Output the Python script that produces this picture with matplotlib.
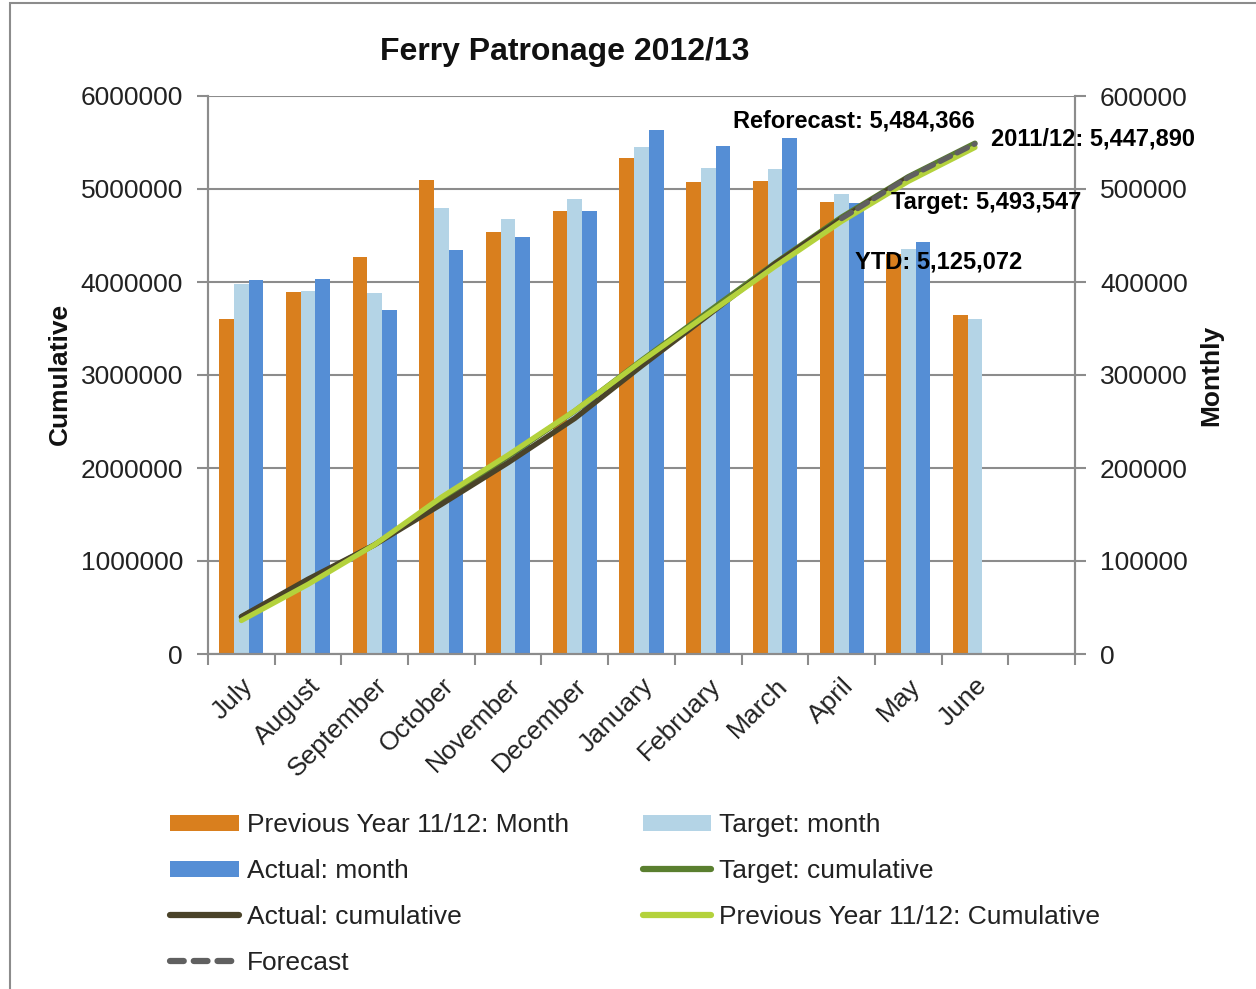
import matplotlib

matplotlib.use("Agg")
import matplotlib.pyplot as plt
import matplotlib.transforms as mtransforms
import numpy as np
from matplotlib.lines import Line2D
from matplotlib.patches import Rectangle

plt.rcParams["font.family"] = ["Liberation Sans", "DejaVu Sans"]

months = [
    "July", "August", "September", "October", "November", "December",
    "January", "February", "March", "April", "May", "June",
]
prev_month = [360000, 389000, 427000, 510000, 454000, 476000,
              533000, 508000, 509000, 486000, 430000, 365000]
target_month = [398000, 390000, 388000, 480000, 468000, 489000,
                545000, 523000, 522000, 495000, 435000, 360000]
actual_month = [402000, 403000, 370000, 434000, 448000, 476000,
                563000, 546000, 555000, 485000, 443000]
reforecast_total = 5484366

labels = {
    "reforecast": "Reforecast: 5,484,366",
    "prev": "2011/12: 5,447,890",
    "target": "Target: 5,493,547",
    "ytd": "YTD: 5,125,072",
}

c_prev = "#D97F1E"
c_target = "#B4D4E6"
c_actual = "#558ED5"
c_target_cum = "#5A7F2F"
c_actual_cum = "#4A4329"
c_prev_cum = "#B4D23C"
c_forecast = "#606060"
grey = "#8C8C8C"
fs = 19

prev_cum = np.cumsum(prev_month)
target_cum = np.cumsum(target_month)
actual_cum = np.cumsum(actual_month)
forecast = [actual_cum[-2], actual_cum[-1], reforecast_total]

fig = plt.figure(figsize=(12.56, 9.89), dpi=100)
fig.patches.append(
    Rectangle((10 / 1256, -0.1), 1.2, 1.1 - 3 / 989, transform=fig.transFigure,
              fill=False, edgecolor=grey, linewidth=1.5)
)
ax_m = fig.add_axes((208 / 1256, 1 - 654 / 989, 867 / 1256, 558 / 989))
ax_c = ax_m.twinx()

x = np.arange(len(months))
w = 0.22
ax_m.bar(x - w, prev_month, w, color=c_prev, label="Previous Year 11/12: Month")
ax_m.bar(x, target_month, w, color=c_target, label="Target: month")
ax_m.bar(np.arange(len(actual_month)) + w, actual_month, w, color=c_actual,
         label="Actual: month")
ax_m.set_ylim(0, 600000)
ax_m.set_xlim(-0.5, 12.5)
ax_m.set_axisbelow(True)
ax_m.yaxis.grid(True, color=grey, linewidth=1.5)
ax_m.yaxis.tick_right()
ax_m.ticklabel_format(axis="y", style="plain")

lw = 3.8
ax_c.plot(x, target_cum, color=c_target_cum, lw=lw, solid_capstyle="round",
          label="Target: cumulative")
ax_c.plot(np.arange(len(actual_cum)), actual_cum, color=c_actual_cum, lw=lw,
          solid_capstyle="round", label="Actual: cumulative")
ax_c.plot(x, prev_cum, color=c_prev_cum, lw=lw, solid_capstyle="round",
          label="Previous Year 11/12: Cumulative")
ax_c.plot([9, 10, 11], forecast, color=c_forecast, lw=lw, dashes=(2.2, 1.4),
          dash_capstyle="round", label="Forecast")
ax_c.set_ylim(0, 6000000)
ax_c.yaxis.tick_left()
ax_c.ticklabel_format(axis="y", style="plain")
ax_m.set_zorder(1)
ax_c.set_zorder(2)
ax_c.patch.set_visible(False)

ax_m.set_xticks(np.arange(-0.5, 13, 1), minor=True)
ax_m.set_xticks(x)
ax_m.set_xticklabels(months, rotation=45, ha="right", va="top",
                     rotation_mode="anchor", fontsize=fs, color="#222222")
shift = mtransforms.ScaledTranslation(-5 / 100, 0, fig.dpi_scale_trans)
for lab in ax_m.get_xticklabels():
    lab.set_transform(lab.get_transform() + shift)
ax_m.tick_params(axis="x", which="major", length=0, pad=14)
ax_m.tick_params(axis="x", which="minor", length=8, width=1.5, color=grey)
for a in (ax_m, ax_c):
    a.tick_params(axis="y", length=8, width=1.5, color=grey, pad=10,
                  labelsize=fs, labelcolor="#222222")
    for s in a.spines.values():
        s.set_color(grey)
        s.set_linewidth(1.5)
    a.spines["top"].set_visible(False)

ax_c.set_yticks(np.arange(0, 6000001, 1000000))
ax_m.set_yticks(np.arange(0, 600001, 100000))

fig.text(565 / 1256, 1 - 52 / 989, "Ferry Patronage 2012/13", ha="center",
         va="center", fontsize=23, fontweight="bold", color="#111111")
fig.text(60 / 1256, 1 - 374 / 989, "Cumulative", rotation=90, ha="center",
         va="center", fontsize=fs, fontweight="bold", color="#111111")
fig.text(1211 / 1256, 1 - 375 / 989, "Monthly", rotation=90, ha="center",
         va="center", fontsize=fs, fontweight="bold", color="#111111")


def px_to_data(px, py):
    return -0.5 + (px - 208) / (867 / 13), (654 - py) / 558 * 6000000


for key, (px, py) in {
    "reforecast": (733, 121),
    "prev": (991, 139),
    "target": (891, 202),
    "ytd": (855, 262),
}.items():
    tx, ty = px_to_data(px, py)
    ax_c.text(tx, ty, labels[key], ha="left", va="center", fontsize=17,
              fontweight="bold", color="black", clip_on=False, zorder=5)

hm, lm = ax_m.get_legend_handles_labels()
hc, lc = ax_c.get_legend_handles_labels()
by_label = dict(zip(lm + lc, hm + hc))
order = [
    "Previous Year 11/12: Month", "Actual: month", "Actual: cumulative",
    "Forecast", "Target: month", "Target: cumulative",
    "Previous Year 11/12: Cumulative",
]
handles = []
for name in order:
    h = by_label[name]
    if isinstance(h, Line2D):
        h = Line2D([], [], color=h.get_color(), lw=4.5,
                   linestyle=h.get_linestyle(), solid_capstyle="round",
                   dash_capstyle="round")
        if name == "Forecast":
            h.set_dashes((2.2, 1.6))
    handles.append(h)
fig.legend(handles, order, ncol=2, loc="upper left",
           bbox_to_anchor=(157 / 1256, 1 - 800 / 989), frameon=False,
           fontsize=fs, handlelength=2.6, handletextpad=0.3,
           columnspacing=2.8, labelspacing=0.83, borderpad=0,
           handleheight=0.55, labelcolor="#222222")

fig.savefig("out.png", dpi=100)
